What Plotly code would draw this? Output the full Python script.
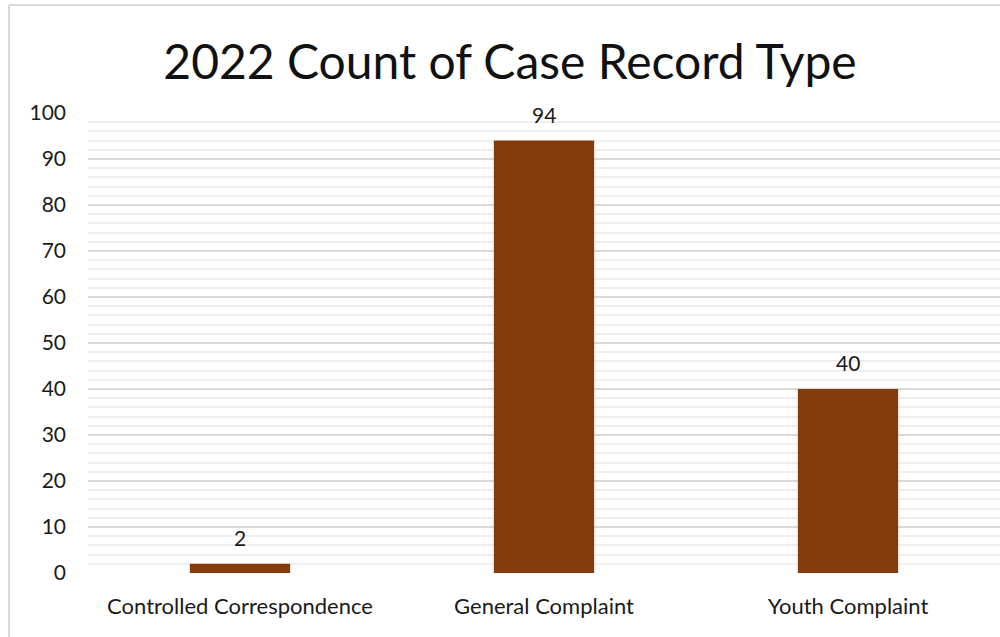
import plotly.graph_objects as go

# Case record types and their 2022 counts
categories = ["Controlled Correspondence", "General Complaint", "Youth Complaint"]
counts = [2, 94, 40]
y_ticks = [0, 10, 20, 30, 40, 50, 60, 70, 80, 90, 100]

BAR_COLOR = "#843C0C"
FONT = "Lato"
TEXT_COLOR = "#1a1a1a"

fig = go.Figure(
    go.Bar(
        x=categories,
        y=counts,
        width=0.33,
        marker=dict(color=BAR_COLOR, line=dict(width=0)),
    )
)

# Value labels sitting a little above each bar
for cat, val in zip(categories, counts):
    fig.add_annotation(
        x=cat, y=val, text=str(val),
        showarrow=False, yanchor="bottom", yshift=12,
        font=dict(family=FONT, size=21, color=TEXT_COLOR),
    )

fig.update_layout(
    width=1000,
    height=637,
    margin=dict(l=88, r=0, t=113, b=64),
    paper_bgcolor="white",
    plot_bgcolor="white",
    showlegend=False,
    title=dict(
        text="2022 Count of Case Record Type",
        x=0.51,
        xref="container",
        xanchor="center",
        y=1 - 62 / 637,
        yref="container",
        yanchor="middle",
        font=dict(family=FONT, size=48, color="#111111"),
    ),
    font=dict(family=FONT, color=TEXT_COLOR),
)

fig.update_xaxes(
    showgrid=False,
    showline=False,
    zeroline=False,
    ticks="",
    tickfont=dict(family=FONT, size=22, color=TEXT_COLOR),
    ticklabelstandoff=18,
)

fig.update_yaxes(
    range=[0, 100],
    tickvals=y_ticks,
    showgrid=True,
    gridcolor="#d9d9d9",
    gridwidth=2,
    zeroline=False,
    showline=False,
    ticks="",
    tickfont=dict(family=FONT, size=21, color=TEXT_COLOR),
    ticklabelstandoff=21,
    minor=dict(dtick=2, showgrid=True, gridcolor="#efefef", gridwidth=2),
)

# Light outer frame along the left and top of the chart area
x_left = (9 - 88) / 912
y_top = (573 - 5) / 460
fig.add_shape(type="line", xref="paper", yref="paper",
              x0=x_left, x1=x_left, y0=-0.2, y1=y_top,
              line=dict(color="#d9d9d9", width=2))
fig.add_shape(type="line", xref="paper", yref="paper",
              x0=x_left, x1=1.05, y0=y_top, y1=y_top,
              line=dict(color="#d9d9d9", width=2))

fig.write_html("out.html")
